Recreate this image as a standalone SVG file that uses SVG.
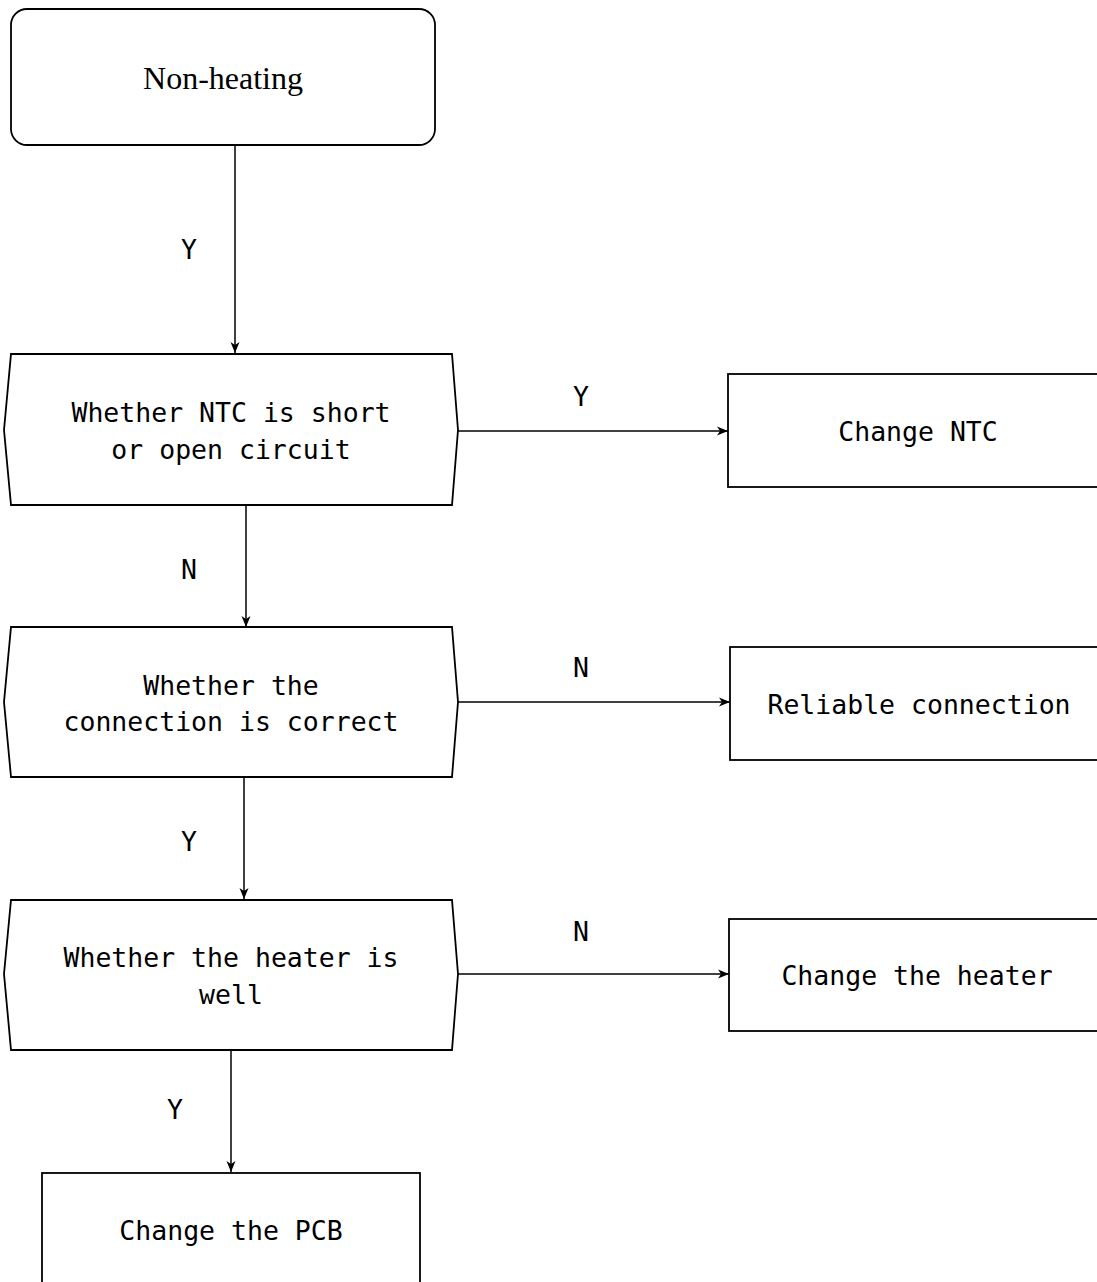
<svg xmlns="http://www.w3.org/2000/svg" width="1097" height="1282" viewBox="0 0 1097 1282">
<style>
.box{fill:#fff;stroke:#000;stroke-width:1.8}
.t{font-family:"DejaVu Sans Mono","Liberation Mono",monospace;font-size:26.5px;fill:#000;text-anchor:middle}
.s{font-family:"Liberation Serif",serif;font-size:32px;fill:#000;text-anchor:middle}
.c{stroke:#000;stroke-width:1.5;fill:none;marker-end:url(#ah)}
</style>
<defs>
<marker id="ah" markerWidth="12" markerHeight="10" refX="11" refY="5" orient="auto" markerUnits="userSpaceOnUse">
<path d="M0,0.5 L11,5 L0,9.5 L3,5 Z" fill="#000"/>
</marker>
</defs>
<rect width="1097" height="1282" fill="#fff"/>
<g id="connectors">
<line class="c" x1="235" y1="145" x2="235" y2="353"/>
<line class="c" x1="458" y1="431" x2="728" y2="431"/>
<line class="c" x1="246" y1="506" x2="246" y2="627"/>
<line class="c" x1="458" y1="702" x2="730" y2="702"/>
<line class="c" x1="244" y1="777" x2="244" y2="899"/>
<line class="c" x1="458" y1="974" x2="729" y2="974"/>
<line class="c" x1="231" y1="1051" x2="231" y2="1172"/>
<text class="t" x="189" y="259">Y</text>
<text class="t" x="581" y="406">Y</text>
<text class="t" x="189" y="579">N</text>
<text class="t" x="581" y="677">N</text>
<text class="t" x="189" y="851">Y</text>
<text class="t" x="581" y="941">N</text>
<text class="t" x="175" y="1119">Y</text>
</g>
<g id="start">
<rect class="box" x="11" y="9" width="424" height="136" rx="16"/>
<text class="s" x="223" y="89">Non-heating</text>
</g>
<g id="q1">
<path class="box" d="M11,354 L452,354 L458,430 L452,505 L11,505 L4,430 Z"/>
<text class="t" x="231" y="422">Whether NTC is short</text>
<text class="t" x="231" y="459">or open circuit</text>
</g>
<g id="changeNTC">
<rect class="box" x="728" y="374" width="380" height="113"/>
<text class="t" x="918" y="441">Change NTC</text>
</g>
<g id="q2">
<path class="box" d="M11,627 L452,627 L458,702 L452,777 L11,777 L4,702 Z"/>
<text class="t" x="231" y="695">Whether the</text>
<text class="t" x="231" y="731">connection is correct</text>
</g>
<g id="reliable">
<rect class="box" x="730" y="647" width="380" height="113"/>
<text class="t" x="919" y="714">Reliable connection</text>
</g>
<g id="q3">
<path class="box" d="M11,900 L452,900 L458,974 L452,1050 L11,1050 L4,974 Z"/>
<text class="t" x="231" y="967">Whether the heater is</text>
<text class="t" x="231" y="1004">well</text>
</g>
<g id="changeHeater">
<rect class="box" x="729" y="919" width="380" height="112"/>
<text class="t" x="917" y="985">Change the heater</text>
</g>
<g id="changePCB">
<rect class="box" x="42" y="1173" width="378" height="120"/>
<text class="t" x="231" y="1240">Change the PCB</text>
</g>
</svg>
